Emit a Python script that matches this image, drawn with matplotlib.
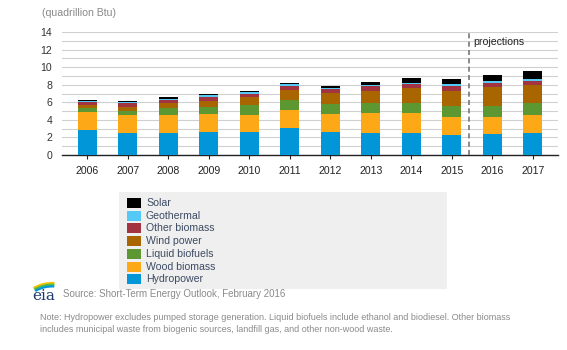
import matplotlib
matplotlib.use("Agg")
import matplotlib.pyplot as plt
from matplotlib.patches import Rectangle, Arc
import numpy as np

plt.rcParams["font.family"] = ["Liberation Sans", "DejaVu Sans"]

# ---------------------------------------------------------------------------
# Data (quadrillion Btu)
# ---------------------------------------------------------------------------
years = ["2006", "2007", "2008", "2009", "2010", "2011",
         "2012", "2013", "2014", "2015", "2016", "2017"]

hydropower      = [2.87, 2.46, 2.49, 2.66, 2.57, 3.11, 2.64, 2.55, 2.47, 2.33, 2.43, 2.55]
wood_biomass    = [2.04, 2.06, 2.03, 1.98, 1.95, 2.01, 2.00, 2.20, 2.28, 2.05, 1.94, 2.05]
liquid_biofuels = [0.42, 0.50, 0.80, 0.80, 1.14, 1.11, 1.14, 1.14, 1.14, 1.25, 1.26, 1.29]
wind_power      = [0.33, 0.45, 0.57, 0.72, 0.92, 1.12, 1.33, 1.45, 1.68, 1.71, 2.09, 2.09]
other_biomass   = [0.38, 0.41, 0.35, 0.48, 0.42, 0.52, 0.36, 0.49, 0.49, 0.53, 0.45, 0.46]
geothermal      = [0.16, 0.16, 0.19, 0.22, 0.20, 0.17, 0.19, 0.19, 0.19, 0.16, 0.23, 0.23]
solar           = [0.07, 0.05, 0.15, 0.10, 0.10, 0.15, 0.22, 0.31, 0.46, 0.57, 0.65, 0.87]

series = [
    ("Hydropower",      hydropower,      "#0096d7"),
    ("Wood biomass",    wood_biomass,    "#fda817"),
    ("Liquid biofuels", liquid_biofuels, "#5d9731"),
    ("Wind power",      wind_power,      "#a86500"),
    ("Other biomass",   other_biomass,   "#a23340"),
    ("Geothermal",      geothermal,      "#55c8f5"),
    ("Solar",           solar,           "#000000"),
]

W, H = 567, 350
fig = plt.figure(figsize=(W / 100, H / 100), dpi=100)
fig.patch.set_facecolor("white")

# axes box in pixels: left 62, right 558, top 32 (y=14), bottom 155 (y=0)
ax = fig.add_axes([62 / W, 1 - 155 / H, (558 - 62) / W, (155 - 32) / H])

x = np.arange(len(years))
bottom = np.zeros(len(years))
for name, vals, col in series:
    ax.bar(x, vals, width=0.47, bottom=bottom, color=col, label=name,
           zorder=3, linewidth=0)
    bottom += np.array(vals)

ax.set_xlim(-0.62, len(years) - 0.38)
ax.set_ylim(0, 14)
ax.set_yticks(range(0, 15, 2))
ax.set_yticks(range(0, 15), minor=True)
ax.grid(axis="y", which="both", color="#d0d0d0", linewidth=0.8, zorder=0)
ax.tick_params(axis="y", which="both", length=0, labelsize=7.6, colors="#333333", pad=7)
ax.set_xticks(x)
ax.set_xticklabels(years)
ax.tick_params(axis="x", length=3, width=0.8, labelsize=7.6, colors="#222222", pad=5)
for s in ["left", "right", "top"]:
    ax.spines[s].set_visible(False)
ax.spines["bottom"].set_color("#222222")
ax.spines["bottom"].set_linewidth(1.0)

# projections divider
ax.axvline(9.43, color="#777777", linestyle=(0, (3, 2)), linewidth=1.2, zorder=4)
ax.text(9.53, 12.9, "projections", fontsize=7.6, color="#222222", va="center", ha="left")

fig.text(42 / W, 1 - 13 / H, "(quadrillion Btu)", fontsize=7.6, color="#888888",
         va="center", ha="left")

# legend box
fig.patches.append(Rectangle((119 / W, 1 - 289 / H), (447 - 119) / W, (289 - 192) / H,
                             transform=fig.transFigure, facecolor="#efefef",
                             edgecolor="none", zorder=0))
for i, (name, vals, col) in enumerate(reversed(series)):
    yc = 203 + i * 12.7
    fig.patches.append(Rectangle((127 / W, 1 - (yc + 5) / H), 14 / W, 10 / H,
                                 transform=fig.transFigure, facecolor=col,
                                 edgecolor="none", zorder=1))
    fig.text(146 / W, 1 - yc / H, name, fontsize=7.6, color="#3d4b63",
             va="center", ha="left")

# eia logo, drawn in pixel units (x right, y up from pixel row 304)
lax = fig.add_axes([28 / W, 1 - 304 / H, 32 / W, 24 / H])
lax.set_xlim(28, 60)
lax.set_ylim(0, 24)
lax.axis("off")
for r, c in [(36, "#f5c400"), (34.3, "#58b947"), (32.6, "#0096d7")]:
    lax.add_patch(Arc((52, -15), 2 * r, 2 * r, theta1=86, theta2=121, color=c, linewidth=1.6))
lax.text(44, 7.5, "eia", fontsize=11, family="DejaVu Serif", color="#1f3a6e",
         ha="center", va="center")

fig.text(63 / W, 1 - 294 / H, "Source: Short-Term Energy Outlook, February 2016",
         fontsize=7, color="#8a8a8a", va="center", ha="left")
fig.text(40 / W, 1 - 317 / H,
         "Note: Hydropower excludes pumped storage generation. Liquid biofuels include ethanol and biodiesel. Other biomass",
         fontsize=6.5, color="#8a8a8a", va="center", ha="left")
fig.text(40 / W, 1 - 329 / H,
         "includes municipal waste from biogenic sources, landfill gas, and other non-wood waste.",
         fontsize=6.5, color="#8a8a8a", va="center", ha="left")

fig.savefig("out.png", dpi=100)
